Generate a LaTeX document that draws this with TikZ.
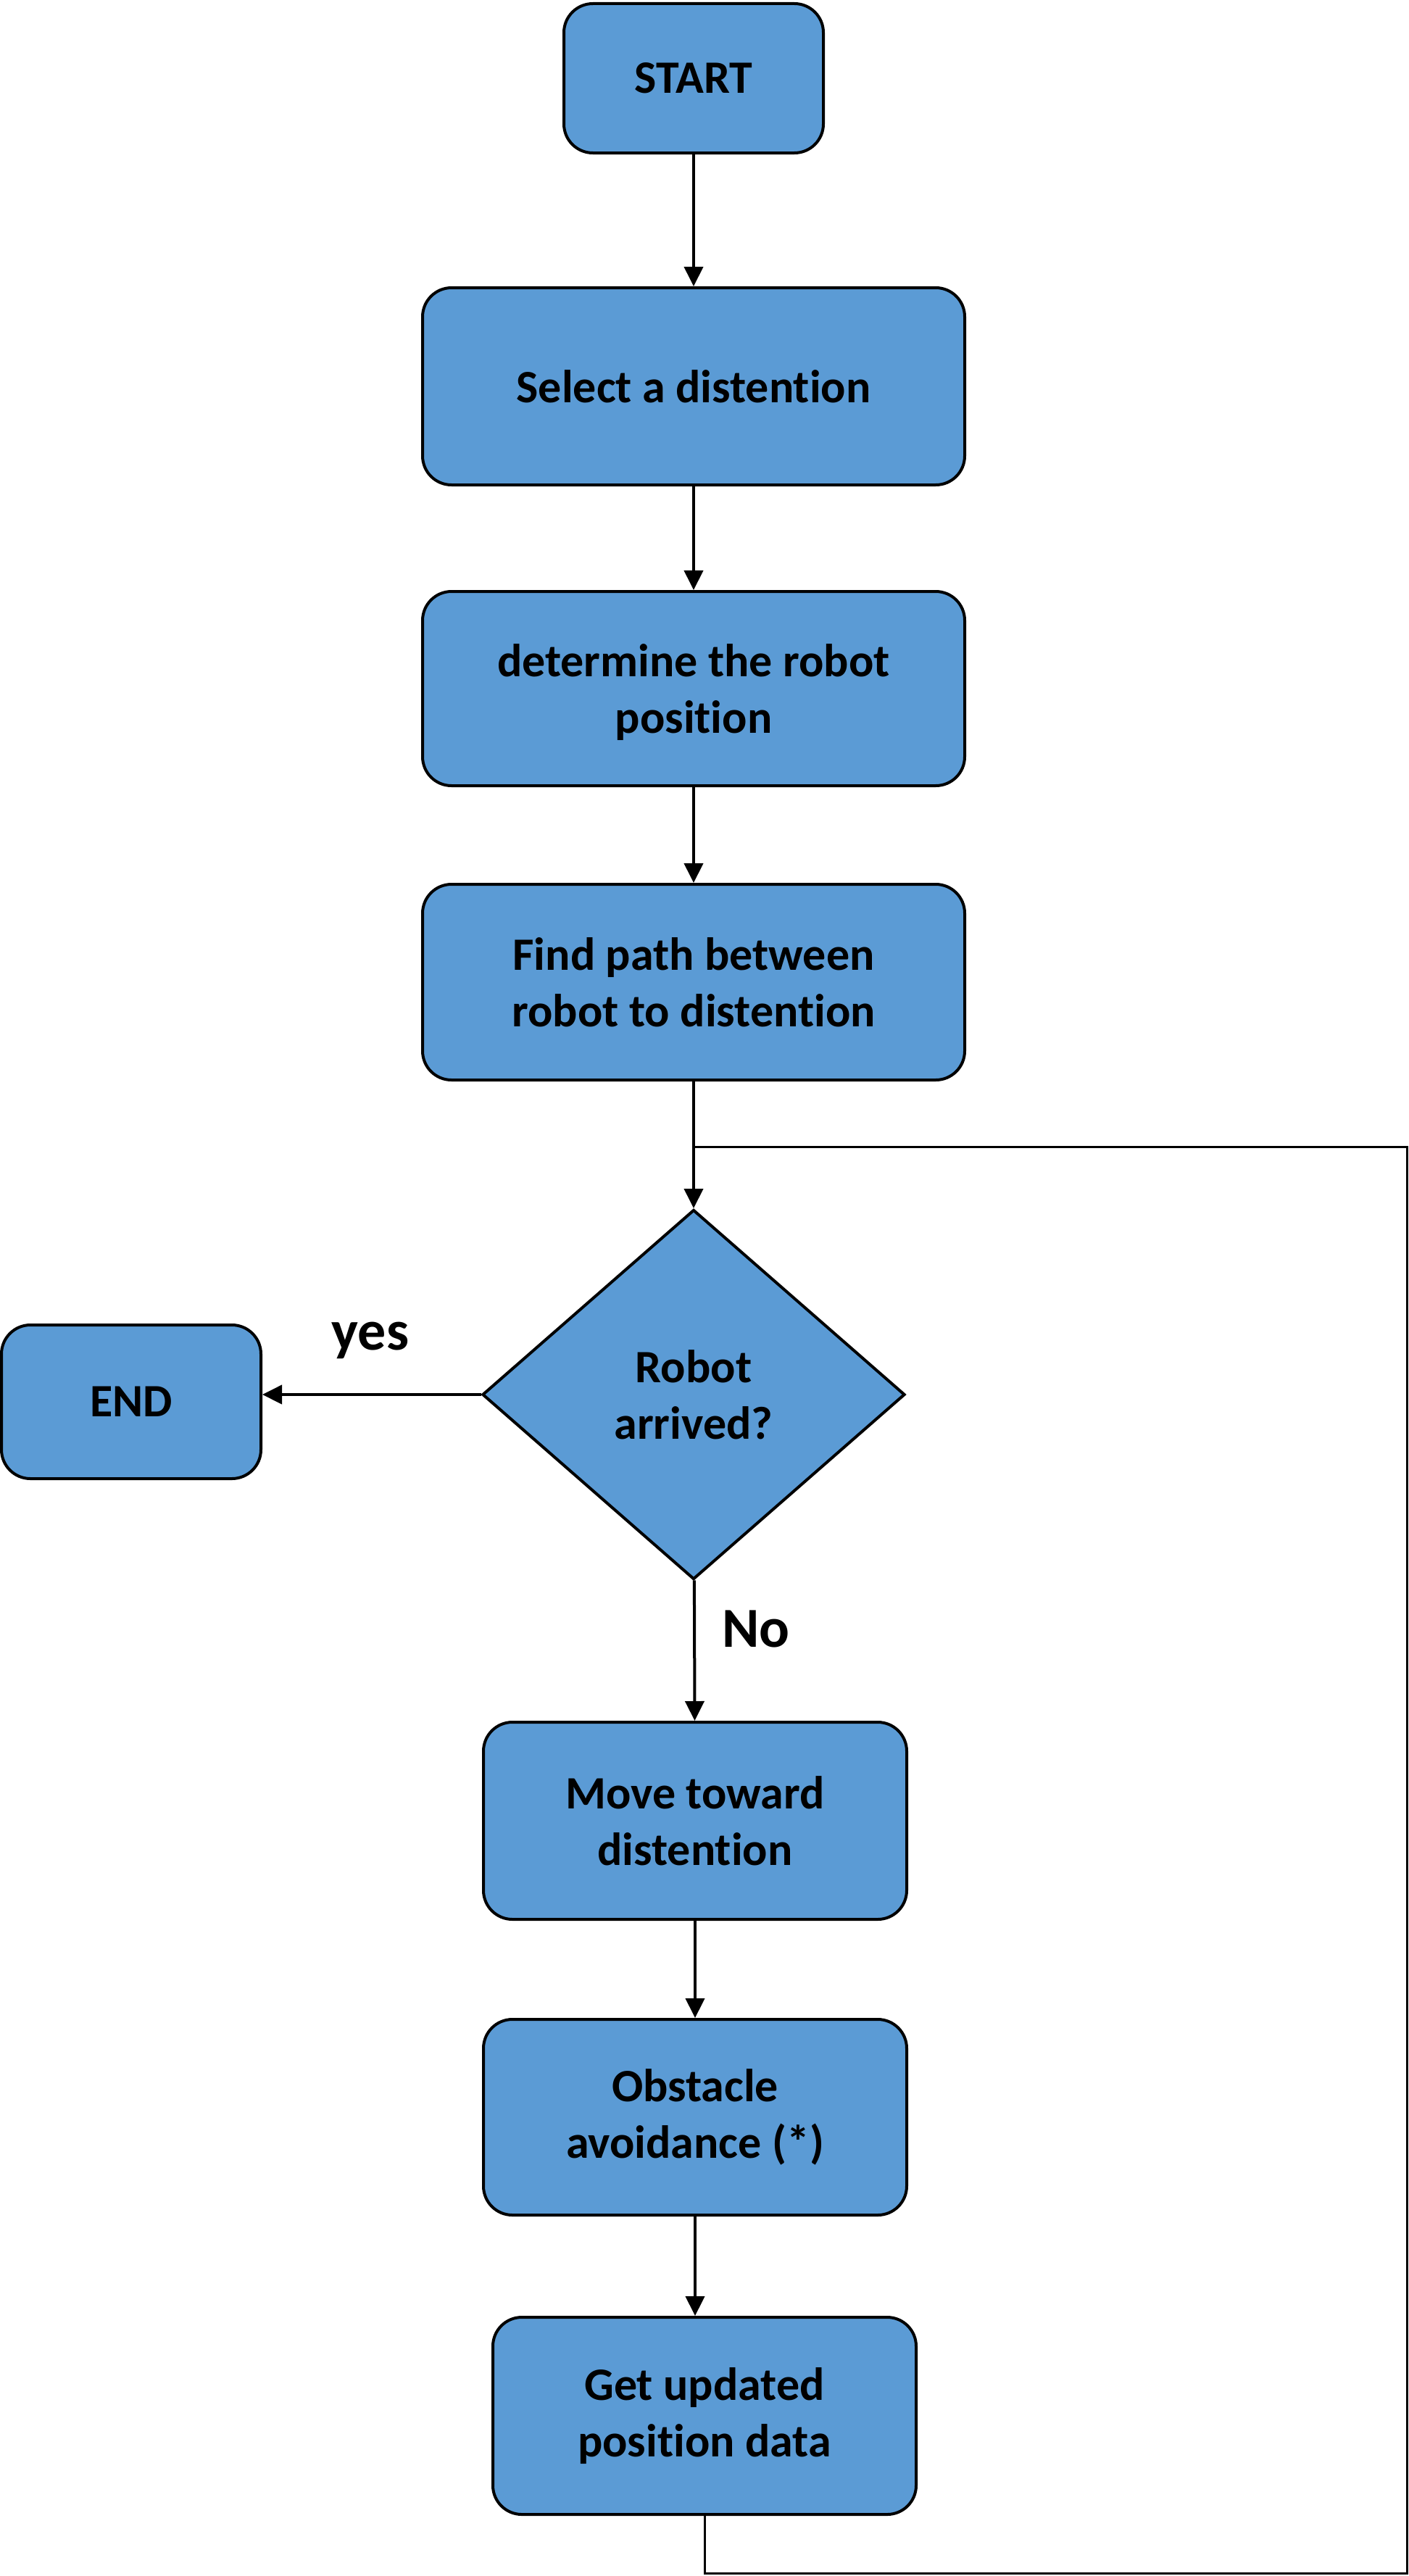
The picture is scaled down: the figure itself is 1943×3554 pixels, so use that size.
\documentclass[tikz,border=0pt]{standalone}
\usepackage{fontspec}
\setmainfont[Ligatures=NoCommon]{Carlito}
\usetikzlibrary{shapes.geometric,arrows.meta}
\definecolor{boxblue}{HTML}{5B9BD5}

\tikzset{
  flowbox/.style={draw, line width=2pt, fill=boxblue, rounded corners=20pt,
    align=center, inner sep=0pt, font=\bfseries\fontsize{32}{39}\selectfont},
  decision/.style={draw, line width=2pt, fill=boxblue, diamond, align=center,
    inner sep=0pt, minimum width=291.5pt, minimum height=255pt,
    font=\bfseries\fontsize{32}{39}\selectfont},
  flowarrow/.style={line width=2pt, -{Triangle[length=13.5pt,width=13pt]}},
  loopline/.style={line width=1.5pt},
  flowlabel/.style={anchor=base, font=\bfseries\fontsize{39}{47}\selectfont}
}

\begin{document}
\begin{tikzpicture}[x=0.5pt,y=-0.5pt]
\useasboundingbox (0,0) rectangle (1943,3554);

% Main column of steps
\node[flowbox, minimum width=179pt, minimum height=103pt] (start) at (957,108) {START};
\node[flowbox, minimum width=374pt, minimum height=136pt] (select) at (957,533) {Select a distention};
\node[flowbox, minimum width=374pt, minimum height=134pt, text depth=0pt] (robotpos) at (957,950) {determine the robot\\position};
\node[flowbox, minimum width=374pt, minimum height=135pt] (findpath) at (957,1355) {Find path between\\robot to distention};
\node[decision] (arrived) at (957,1924) {Robot\\arrived?};
\node[flowbox, minimum width=179pt, minimum height=106pt] (end) at (181,1934) {END};
\node[flowbox, minimum width=292pt, minimum height=136pt] (move) at (959,2512) {Move toward\\distention};
\node[flowbox, minimum width=292pt, minimum height=135pt] (obstacle) at (959,2921) {Obstacle\\avoidance (*)};
\node[flowbox, minimum width=292pt, minimum height=136pt] (getdata) at (972,3333) {Get updated\\position data};

% Branch labels
\node[flowlabel] (yeslabel) at (511,1862) {yes};
\node[flowlabel] (nolabel) at (1043,2272) {No};

% Loop back corners
\coordinate (loopjoin) at (957,1582);
\coordinate (loopcorner) at (1941,3550);

% Arrows
\draw[flowarrow] (start) -- (select);
\draw[flowarrow] (select) -- (robotpos);
\draw[flowarrow] (robotpos) -- (findpath);
\draw[flowarrow] (findpath) -- (arrived);
\draw[flowarrow] (arrived.west) -- (arrived.west -| end.east);
\draw[flowarrow] (arrived) -- (move);
\draw[flowarrow] (move) -- (obstacle);
\draw[flowarrow] (obstacle.south) -- (obstacle.south |- getdata.north);
\draw[loopline] (getdata.south) |- (loopcorner) |- (loopjoin);

\end{tikzpicture}
\end{document}
